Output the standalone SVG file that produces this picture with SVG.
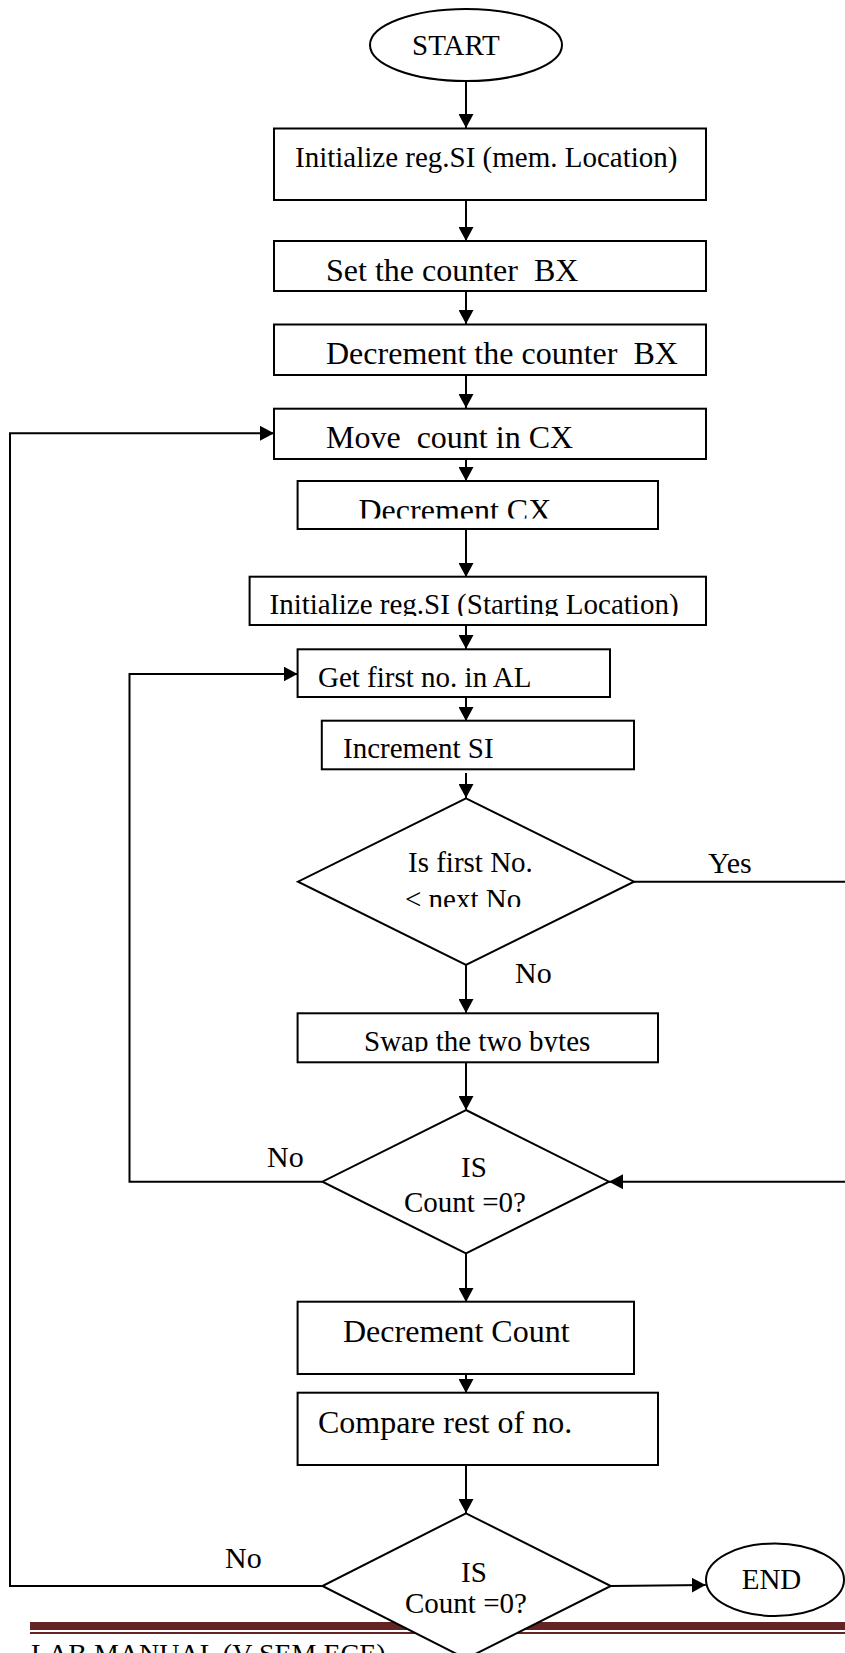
<svg xmlns="http://www.w3.org/2000/svg" width="845" height="1653" viewBox="0 0 845 1653">
<style>
.shape{fill:#fff;stroke:#000;stroke-width:2}
.t{font-family:"Liberation Serif","Times New Roman",serif;fill:#000}
.s29{font-size:29px}
.s32{font-size:32px}
.s30{font-size:30px}
.ln{fill:none;stroke:#000;stroke-width:2}
.arr{marker-end:url(#ah)}
</style>
<defs>
<marker id="ah" viewBox="0 0 14 15" refX="14" refY="7.5" markerWidth="14" markerHeight="15" markerUnits="userSpaceOnUse" orient="auto">
<path d="M0,0 L14,7.5 L0,15 z" fill="#000"/>
</marker>
<clipPath id="c5"><rect x="290" y="481" width="380" height="37.5"/></clipPath>
<clipPath id="c6"><rect x="240" y="577" width="480" height="39"/></clipPath>
<clipPath id="c9"><rect x="290" y="1013" width="380" height="39"/></clipPath>
<clipPath id="cd1"><rect x="300" y="880" width="340" height="27"/></clipPath>
</defs>

<g id="footer">
<rect x="30" y="1622" width="815" height="8" fill="#632423"/>
<rect x="30" y="1632" width="815" height="2" fill="#632423"/>
<text class="t" x="31" y="1663" font-size="28">LAB MANUAL (V SEM ECE)</text>
</g>

<g id="connectors">
<line class="ln arr" x1="466" y1="81" x2="466" y2="128"/>
<line class="ln arr" x1="466" y1="200" x2="466" y2="241"/>
<line class="ln arr" x1="466" y1="277" x2="466" y2="324"/>
<line class="ln arr" x1="466" y1="371" x2="466" y2="408"/>
<line class="ln arr" x1="466" y1="459" x2="466" y2="481"/>
<line class="ln arr" x1="466" y1="529" x2="466" y2="577"/>
<line class="ln arr" x1="466" y1="625" x2="466" y2="649"/>
<line class="ln arr" x1="466" y1="697" x2="466" y2="721"/>
<line class="ln arr" x1="466" y1="773" x2="466" y2="798"/>
<line class="ln arr" x1="466" y1="965" x2="466" y2="1013"/>
<line class="ln arr" x1="466" y1="1062" x2="466" y2="1110"/>
<line class="ln arr" x1="466" y1="1253" x2="466" y2="1302"/>
<line class="ln arr" x1="466" y1="1368" x2="466" y2="1393"/>
<line class="ln arr" x1="466" y1="1465" x2="466" y2="1513"/>
<line class="ln" x1="634" y1="881.7" x2="845" y2="881.7"/>
<line class="ln arr" x1="845" y1="1181.7" x2="609" y2="1181.7"/>
<polyline class="ln arr" points="322,1181.7 129.5,1181.7 129.5,674 297.6,674"/>
<polyline class="ln arr" points="322,1586 10,1586 10,433.3 274,433.3"/>
<line class="ln arr" x1="611" y1="1586" x2="705.7" y2="1585"/>
</g>

<g id="start">
<ellipse class="shape" cx="466" cy="45" rx="96" ry="36"/>
<text class="t s29" x="412" y="55">START</text>
</g>

<g id="n1">
<rect class="shape" x="274" y="128.5" width="432" height="71.5"/>
<text class="t s29" x="295" y="166.7">Initialize reg.SI (mem. Location)</text>
</g>

<g id="n2">
<rect class="shape" x="274" y="241" width="432" height="50"/>
<text class="t s32" x="326" y="281" xml:space="preserve">Set the counter  BX</text>
</g>

<g id="n3">
<rect class="shape" x="274" y="324.5" width="432" height="50.5"/>
<text class="t s32" x="326" y="364.3" xml:space="preserve">Decrement the counter  BX</text>
</g>

<g id="n4">
<rect class="shape" x="274" y="408.7" width="432" height="50.3"/>
<text class="t s32" x="326" y="447.7" xml:space="preserve">Move  count in CX</text>
</g>

<g id="n5">
<rect class="shape" x="297.6" y="481" width="360.4" height="48"/>
<text class="t s32" x="358.5" y="520.5" clip-path="url(#c5)">Decrement CX</text>
</g>

<g id="n6">
<rect class="shape" x="249.6" y="576.7" width="456.4" height="48.3"/>
<text class="t s29" x="269.5" y="614" clip-path="url(#c6)">Initialize reg.SI (Starting Location)</text>
</g>

<g id="n7">
<rect class="shape" x="297.6" y="649.3" width="312.4" height="47.7"/>
<text class="t s29" x="318" y="686.7">Get first no. in AL</text>
</g>

<g id="n8">
<rect class="shape" x="321.8" y="720.7" width="312.2" height="48.6"/>
<text class="t s29" x="343" y="758.3">Increment SI</text>
</g>

<g id="d1">
<polygon class="shape" points="466,798.3 634,881.7 466,965 298,881.7"/>
<text class="t s29" x="408" y="871.7">Is first No.</text>
<text class="t s29" x="405" y="909" clip-path="url(#cd1)">&lt; next No</text>
</g>

<g id="n9">
<rect class="shape" x="297.6" y="1013.3" width="360.4" height="49"/>
<text class="t s29" x="364" y="1051" clip-path="url(#c9)">Swap the two bytes</text>
</g>

<g id="d2">
<polygon class="shape" points="466,1110 609,1181.7 466,1253.3 322.4,1181.7"/>
<text class="t s29" x="461" y="1176.7">IS</text>
<text class="t s29" x="404" y="1212">Count =0?</text>
</g>

<g id="n10">
<rect class="shape" x="297.6" y="1301.7" width="336.4" height="72.3"/>
<text class="t s32" x="343" y="1341.7">Decrement Count</text>
</g>

<g id="n11">
<rect class="shape" x="297.6" y="1392.7" width="360.4" height="72.3"/>
<text class="t s32" x="318" y="1433.3">Compare rest of no.</text>
</g>

<g id="d3">
<polygon class="shape" points="466,1513.3 610.8,1586 466,1658.7 322.4,1586"/>
<text class="t s29" x="461" y="1581.7">IS</text>
<text class="t s29" x="405" y="1613.3">Count =0?</text>
</g>

<g id="end">
<ellipse class="shape" cx="775" cy="1579.7" rx="69" ry="36.3"/>
<text class="t s29" x="741.7" y="1589.3">END</text>
</g>

<g id="labels">
<text class="t s30" x="708" y="873.3">Yes</text>
<text class="t s30" x="515" y="982.7">No</text>
<text class="t s30" x="267" y="1166.7">No</text>
<text class="t s30" x="225" y="1568.3">No</text>
</g>
</svg>
